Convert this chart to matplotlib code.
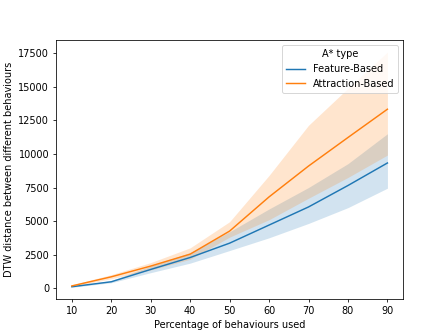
import matplotlib
matplotlib.use("Agg")
import matplotlib.pyplot as plt
import numpy as np

x = [10, 20, 30, 40, 50, 60, 70, 80, 90]

feature_mean = [100, 470, 1390, 2280, 3350, 4700, 6050, 7650, 9330]
feature_low = [60, 400, 1150, 1860, 2800, 3750, 4820, 6000, 7450]
feature_high = [150, 560, 1650, 2650, 4200, 5900, 7500, 9280, 11510]

attraction_mean = [160, 840, 1640, 2530, 4250, 6800, 9100, 11230, 13340]
attraction_low = [110, 700, 1350, 2150, 3800, 5100, 6700, 8250, 9920]
attraction_high = [240, 1000, 1900, 3000, 4950, 8400, 12140, 14900, 17600]

fig, ax = plt.subplots(figsize=(6.4, 4.8), dpi=70)

ax.fill_between(x, feature_low, feature_high, color="tab:blue", alpha=0.2, linewidth=0)
ax.fill_between(x, attraction_low, attraction_high, color="tab:orange", alpha=0.2, linewidth=0)
ax.plot(x, feature_mean, color="tab:blue", label="Feature-Based")
ax.plot(x, attraction_mean, color="tab:orange", label="Attraction-Based")

ax.set_xlabel("Percentage of behaviours used")
ax.set_ylabel("DTW distance between different behaviours")
ax.legend(title="A* type", loc="upper right")

fig.savefig("out.png", dpi=70)
